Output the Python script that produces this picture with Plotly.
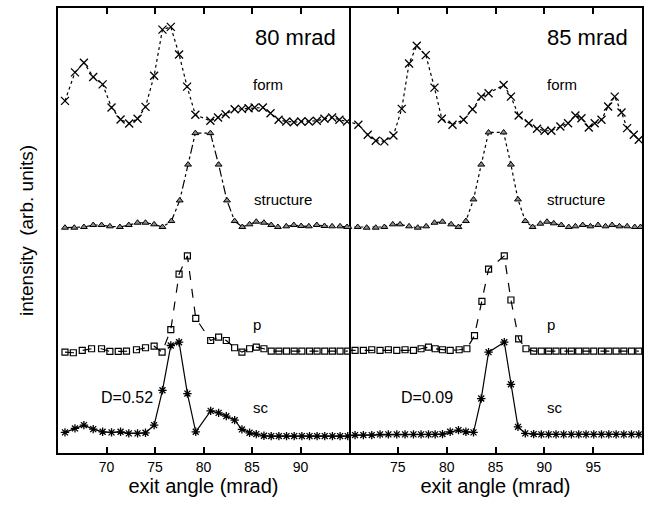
import plotly.graph_objects as go

# ---------------- data (intensity in arbitrary units, curves already offset) -------------
# Left panel: 80 mrad
l_form_x = [65.72,66.75,67.67,68.63,69.6,70.52,71.45,72.34,73.2,74.02,74.91,75.77,76.63,77.48,78.31,79.16,80.71,81.5,82.28,83.21,83.96,84.65,85.27,86.12,86.91,87.74,88.53,89.31,90.07,90.86,91.68,92.47,93.26,94.01,94.8]
l_form_y = [353.7,382.3,392,377.7,370.3,347,335,331,335.7,347.7,379,425.3,428,400.3,368,339.7,333.7,337,340.3,345.3,345.7,346.3,347,347,341.3,334.7,333,332.3,333,333,333.7,335.7,337,334.7,333]

l_struct_x = [65.72,66.68,67.67,68.63,69.49,70.35,71.38,72.3,73.2,74.02,74.91,75.77,76.69,77.55,78.41,79.16,80.71,81.56,82.42,83.21,84.0,84.75,85.44,86.23,86.98,87.67,88.53,89.31,90.07,90.86,91.68,92.47,93.26,94.08,94.8]
l_struct_y = [226.3,226.3,227,229,229,227.7,227,229,231.3,231.3,229.7,227,233,253.7,289.7,321.3,321.3,289.7,253.7,233,227,229.7,232.3,231.3,229,227,227.7,229,228,227.7,229,228,227.7,227.7,227]

l_p_x = [65.72,66.58,67.5,68.46,69.49,70.35,71.21,72.06,73.09,74.02,74.91,75.73,76.63,77.48,78.34,79.2,80.74,81.56,82.35,83.21,83.96,84.75,85.44,86.23,86.98,87.77,88.56,89.35,90.14,90.93,91.71,92.5,93.29,94.08,94.87]
l_p_y = [101.3,100.7,103,104.7,104.7,102,102,102.3,103.7,105.7,107.3,101.3,124,179.7,198,135.3,113,116.3,113,105.7,101.3,104.7,106.3,104.7,102.3,102.3,102.3,102.3,102.3,102.3,102.3,102.3,102.3,102.3,102.3]

l_sc_x = [65.72,66.75,67.67,68.63,69.6,70.52,71.45,72.3,73.2,74.02,74.91,75.77,76.63,77.48,78.34,79.2,80.74,81.56,82.35,83.21,83.96,84.75,85.44,86.23,86.98,87.77,88.56,89.35,90.14,90.93,91.71,92.5,93.29,94.08,94.87]
l_sc_y = [20.7,24.7,28,24,21.3,20.7,21.3,19.7,19.7,20.3,28,63,108,111.3,59.7,21.3,42.3,40.3,37,33,23.7,20.3,19,17.3,17,17,17,17,17,17,17,17,17,17,17]

# Right panel: 85 mrad
r_form_x = [69.76,70.96,71.92,72.74,73.62,74.55,75.4,76.15,76.94,77.86,78.75,79.5,80.6,81.73,82.65,83.54,84.29,85.83,86.58,87.37,88.4,89.25,90.03,90.72,91.64,92.43,93.18,93.8,94.55,95.16,95.85,96.53,97.21,97.9,98.48,99.16,99.67]
r_form_y = [333.7,329.7,319.7,313.7,313,319,345.7,391.3,409,399.7,367,335.7,329.7,334.7,345.3,358,361.3,369.7,358,339,331.3,325.7,323.7,323.7,328,331.3,339,336.3,327,331.3,334.7,348,358,342,326.3,319.7,314.7]

r_struct_x = [69.93,70.89,71.81,72.74,73.62,74.48,75.23,76.15,77.04,77.9,78.75,79.57,80.46,81.21,81.97,82.75,83.54,84.29,85.83,86.58,87.3,88.05,88.8,89.59,90.27,90.96,91.74,92.5,93.18,93.93,94.72,95.5,96.26,96.94,97.69,98.48,99.26,99.85]
r_struct_y = [227,227,226.3,226.3,227,229.7,229.7,227.7,226.3,227.7,231.3,232.3,229.7,227,233,254.7,289.7,322,322,289.7,254.7,233,227,230.3,232.3,230.7,229,227,227.7,229,227.7,229,227.7,229,227.7,227.7,227,227]

r_p_x = [69.76,70.62,71.47,72.33,73.18,74.03,74.89,75.74,76.6,77.38,78.14,78.82,79.57,80.36,81.28,82.07,82.85,83.61,84.29,85.9,86.58,87.37,88.12,88.91,89.69,90.44,91.2,91.98,92.77,93.52,94.27,95.06,95.85,96.6,97.35,98.14,98.92,99.67]
r_p_y = [103,103,103,103.7,103,103.7,103,103.7,103,104.7,106.3,104.7,103.7,103,103.7,104.7,118,152.3,184.7,198,153.7,114.7,104.7,102.3,102.3,102.3,102.3,102.3,102.3,102.3,102.3,102.3,102.3,102.3,102.3,102.3,102.3,102.3]

r_sc_x = [69.76,70.62,71.47,72.33,73.18,74.03,74.89,75.74,76.6,77.38,78.14,78.82,79.57,80.36,81.21,81.97,82.75,83.54,84.29,85.9,86.58,87.3,88.05,88.91,89.69,90.44,91.2,91.98,92.77,93.52,94.27,95.06,95.85,96.6,97.35,98.14,98.92,99.67]
r_sc_y = [17,18,18,18,18.7,18.7,18.7,18.7,18.7,18.7,18.7,18.7,19,21.3,23,21.3,20.7,54.7,101.3,111.3,69,26.3,19.7,19,18.7,18.7,18.7,18.7,18.7,18.7,18.7,18.7,18.7,18.7,18.7,18.7,18.7,18.7]

left_ticks = [70, 75, 80, 85, 90]
right_ticks = [75, 80, 85, 90, 95]
left_range = [65, 95]
right_range = [70, 100]
y_range = [0, 447]

FONT = "Liberation Sans, Arial, Helvetica, sans-serif"

fig = go.Figure()

def add(x, y, xa, dash, symbol, size, color_fill=None, lw=1.2, mlw=1.3):
    mk = dict(symbol=symbol, size=size, color="black", line=dict(color="black", width=mlw))
    if color_fill is not None:
        mk["color"] = color_fill
    fig.add_trace(go.Scatter(x=x, y=y, xaxis=xa, yaxis="y" if xa == "x" else "y2",
                             mode="lines+markers",
                             line=dict(color="black", width=lw, dash=dash),
                             marker=mk, showlegend=False, hoverinfo="skip"))

# left
add(l_form_x, l_form_y, "x", "dot", "x-thin-open", 8)
add(l_struct_x, l_struct_y, "x", "dashdot", "triangle-up", 6, "#8a8a8a", mlw=1)
add(l_p_x, l_p_y, "x", "dash", "square-open", 6, mlw=1.2)
add(l_sc_x, l_sc_y, "x", "solid", "asterisk-open", 7)
# right
add(r_form_x, r_form_y, "x2", "dot", "x-thin-open", 8)
add(r_struct_x, r_struct_y, "x2", "dot", "triangle-up", 6, "#8a8a8a", mlw=1)
add(r_p_x, r_p_y, "x2", "dash", "square-open", 6, mlw=1.2)
add(r_sc_x, r_sc_y, "x2", "solid", "asterisk-open", 7)

axis_common = dict(showline=True, linecolor="black", linewidth=2, mirror="ticks",
                   ticks="inside", ticklen=6, tickwidth=2, tickcolor="black",
                   showgrid=False, zeroline=False,
                   tickfont=dict(family=FONT, size=14, color="black"),
                   title=dict(text="exit angle (mrad)", font=dict(family=FONT, size=20, color="black"), standoff=4))

split = 291 / 584
fig.update_layout(
    width=649, height=510,
    margin=dict(l=58, r=7, t=6, b=57),
    paper_bgcolor="white", plot_bgcolor="white",
    xaxis=dict(domain=[0, split], range=left_range, tickvals=left_ticks,
               ticktext=[str(t) for t in left_ticks], anchor="y", **axis_common),
    xaxis2=dict(domain=[split, 1], range=right_range, tickvals=right_ticks,
                ticktext=[str(t) for t in right_ticks], anchor="y2", **axis_common),
    yaxis=dict(range=y_range, showticklabels=False, ticks="", showline=True, linecolor="black",
               linewidth=2, mirror=True, showgrid=False, zeroline=False, anchor="x",
               title=dict(text="intensity  (arb. units)", font=dict(family=FONT, size=19, color="black"), standoff=17)),
    yaxis2=dict(range=y_range, showticklabels=False, ticks="", showline=True, linecolor="black",
                linewidth=2, mirror=False, side="right", showgrid=False, zeroline=False, anchor="x2", matches="y"),
)

def ann(text, x, y, xref, yref, size=15, xanchor="left"):
    fig.add_annotation(text=text, x=x, y=y, xref=xref, yref=yref, showarrow=False,
                       xanchor=xanchor, yanchor="middle",
                       font=dict(family=FONT, size=size, color="black"))

ann("80 mrad", 93.9, 417, "x", "y", size=22, xanchor="right")
ann("form", 84.9, 370, "x", "y")
ann("structure", 85.0, 255, "x", "y")
ann("p", 84.9, 129, "x", "y")
ann("sc", 84.9, 46, "x", "y")
ann("D=0.52", 69.2, 56, "x", "y", size=16)

ann("85 mrad", 98.8, 417, "x2", "y2", size=22, xanchor="right")
ann("form", 90.1, 370, "x2", "y2")
ann("structure", 90.1, 255, "x2", "y2")
ann("p", 90.1, 129, "x2", "y2")
ann("sc", 90.1, 46, "x2", "y2")
ann("D=0.09", 75.1, 56, "x2", "y2", size=16)

fig.write_html("out.html", config={"displayModeBar": False},
               post_script="document.body.style.margin='0px';document.body.style.overflow='hidden';")
